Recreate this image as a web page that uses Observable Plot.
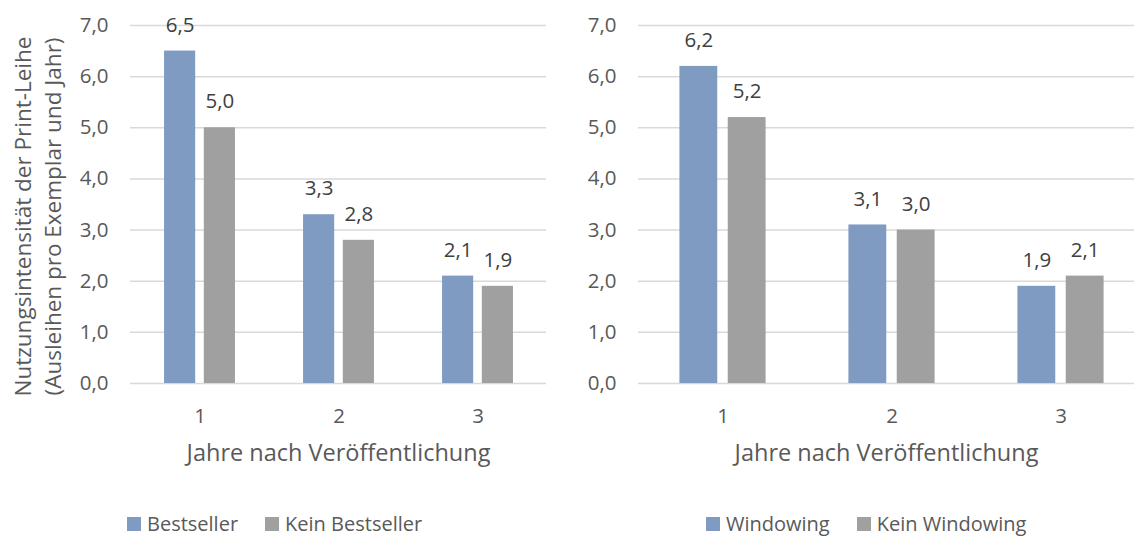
<!DOCTYPE html>
<html>
<head>
<meta charset="utf-8">
<script src="https://cdn.jsdelivr.net/npm/d3@7"></script>
<script src="https://cdn.jsdelivr.net/npm/@observablehq/plot@0.6"></script>
<style>
  body { margin: 0; background: #fff; font-family: "Open Sans", sans-serif; }
  #wrap { position: relative; width: 1134px; height: 536px; overflow: hidden; background: #fff; }
  .panel { position: absolute; top: 0; }
  .legend { position: absolute; top: 512px; display: flex; gap: 27px; font-size: 20px; color: #595959; align-items: center; line-height: 24px; }
  .legend .item { display: flex; align-items: center; gap: 6px; }
  .legend .sw { width: 14px; height: 14px; display: inline-block; }
</style>
</head>
<body>
<div id="wrap"></div>
<script>
// Years after publication (x categories)
const years = ["1", "2", "3"];

// Left panel: bestseller vs. non-bestseller
const bestseller = [6.5, 3.3, 2.1];
const keinBestseller = [5.0, 2.8, 1.9];

// Right panel: windowing vs. no windowing
const windowing = [6.2, 3.1, 1.9];
const keinWindowing = [5.2, 3.0, 2.1];

// Labels
const leftSeries = ["Bestseller", "Kein Bestseller"];
const rightSeries = ["Windowing", "Kein Windowing"];
const xTitle = "Jahre nach Veröffentlichung";
const yTitle = "Nutzungsintensität der Print-Leihe\n(Ausleihen pro Exemplar und Jahr)";
const yDomain = [0, 7];

const blue = "#7f9bc2";
const gray = "#a0a0a0";

const de = d3.formatLocale({decimal: ",", thousands: ".", grouping: [3], currency: ["", " €"]});
const fmt = de.format(".1f");

function panel({width, height, marginLeft, marginRight, range, a, b, title}) {
  const rows = years.map((year, i) => ({year, a: a[i], b: b[i]}));
  const step = (range[1] - range[0]) / years.length;
  const outer = step * 0.245, bar = step * 0.224, gap = step * 0.062;
  const shift = (bar + gap) / 2;
  const marks = [
    Plot.ruleY(d3.range(yDomain[0], yDomain[1] + 1), {stroke: "#d9d9d9", strokeWidth: 1.5}),
    Plot.barY(rows, {x: "year", y: "a", fill: blue, insetLeft: outer, insetRight: step - outer - bar}),
    Plot.barY(rows, {x: "year", y: "b", fill: gray, insetLeft: outer + bar + gap, insetRight: outer}),
    Plot.text(rows, {x: "year", y: "a", text: d => fmt(d.a), dx: -shift, dy: -26, fill: "#404040"}),
    Plot.text(rows, {x: "year", y: "b", text: d => fmt(d.b), dx: shift, dy: -26, fill: "#404040"}),
    Plot.text([xTitle], {text: d => d, frameAnchor: "bottom", textAnchor: "middle", dy: 77, fontSize: 23.5, fill: "#595959"})
  ];
  if (title) {
    marks.push(Plot.text([title], {
      text: d => d, frameAnchor: "left", textAnchor: "middle", rotate: -90, dx: -94, dy: 12,
      lineHeight: 1.3, fontSize: 22.5, fill: "#595959"
    }));
  }
  return Plot.plot({
    width, height,
    marginLeft, marginRight, marginTop: 25, marginBottom: height - 383,
    style: {fontFamily: "Open Sans", fontSize: "20.5px", color: "#595959", background: "transparent", overflow: "visible"},
    x: {domain: years, range, paddingInner: 0, paddingOuter: 0, tickSize: 0, tickPadding: 25, label: null},
    y: {domain: yDomain, ticks: 7, tickFormat: fmt, tickSize: 0, tickPadding: 22, label: null},
    marks
  });
}

function legend(names, left) {
  const div = document.createElement("div");
  div.className = "legend";
  div.style.left = left + "px";
  [blue, gray].forEach((c, i) => {
    const item = document.createElement("span");
    item.className = "item";
    const sw = document.createElement("span");
    sw.className = "sw";
    sw.style.background = c;
    const t = document.createElement("span");
    t.textContent = names[i];
    item.append(sw, t);
    div.append(item);
  });
  return div;
}

const wrap = document.getElementById("wrap");

const left = panel({width: 560, height: 480, marginLeft: 130, marginRight: 14, range: [130, 547], a: bestseller, b: keinBestseller, title: yTitle});
left.classList.add("panel");
left.style.left = "0px";

const right = panel({width: 574, height: 480, marginLeft: 78, marginRight: 0, range: [77.5, 584.5], a: windowing, b: keinWindowing, title: null});
right.classList.add("panel");
right.style.left = "560px";

wrap.append(left, right, legend(leftSeries, 127), legend(rightSeries, 706));
</script>
</body>
</html>
